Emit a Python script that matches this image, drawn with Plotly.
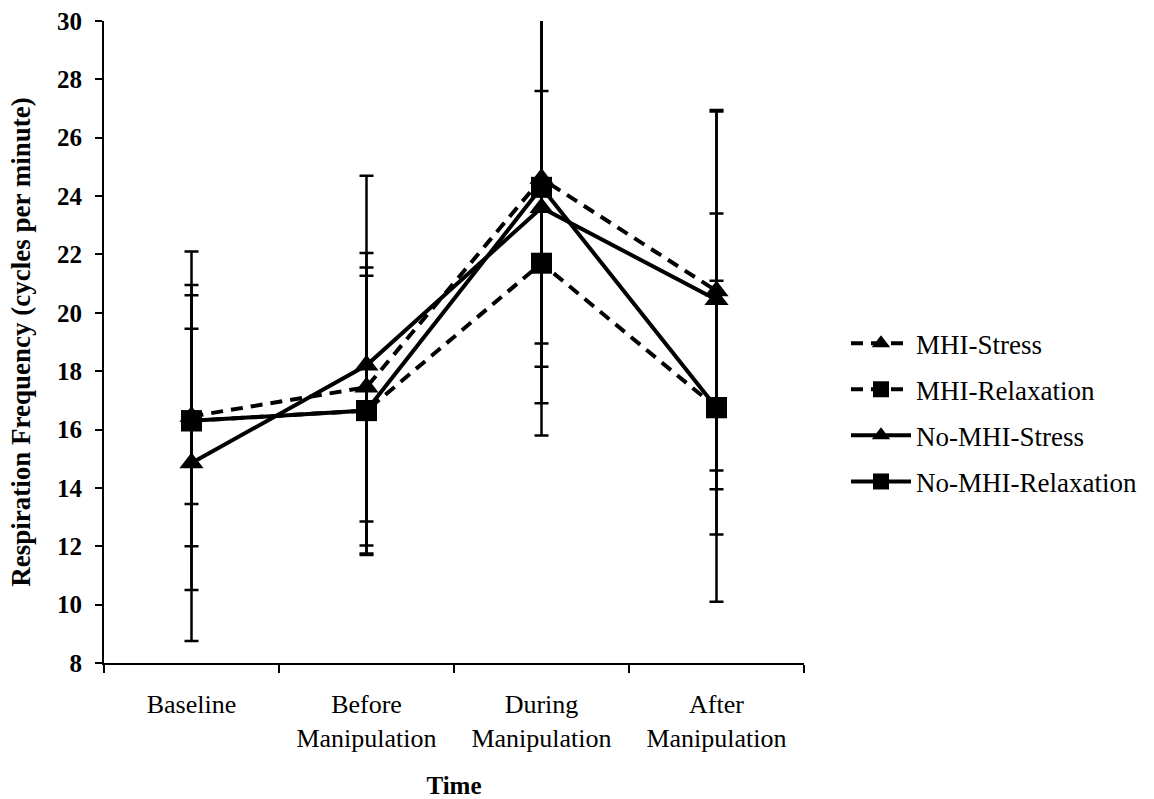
import plotly.graph_objects as go

categories = ["Baseline", "Before<br>Manipulation", "During<br>Manipulation", "After<br>Manipulation"]

series_names = ["MHI-Stress", "MHI-Relaxation", "No-MHI-Stress", "No-MHI-Relaxation"]

mhi_stress = [16.45, 17.45, 24.6, 20.75]
mhi_stress_sd = [3.0, 4.6, 5.65, 6.15]

mhi_relax = [16.3, 16.65, 21.7, 16.75]
mhi_relax_sd = [5.8, 4.9, 5.9, 6.65]

nomhi_stress = [14.85, 18.2, 23.6, 20.45]
nomhi_stress_sd = [6.1, 6.5, 6.7, 6.5]

nomhi_relax = [16.3, 16.65, 24.3, 16.75]
nomhi_relax_sd = [4.3, 4.62, 6.15, 4.35]

y_ticks = [8, 10, 12, 14, 16, 18, 20, 22, 24, 26, 28, 30]

FONT = "Liberation Serif"
styles = [
    ("12px,8px", "triangle-up"),
    ("12px,8px", "square"),
    ("solid", "triangle-up"),
    ("solid", "square"),
]
values = [mhi_stress, mhi_relax, nomhi_stress, nomhi_relax]
sds = [mhi_stress_sd, mhi_relax_sd, nomhi_stress_sd, nomhi_relax_sd]

fig = go.Figure()
for name, vals, sd, (dash, sym) in zip(series_names, values, sds, styles):
    fig.add_trace(go.Scatter(
        x=categories, y=vals, name=name, mode="lines+markers",
        legendgroup=name,
        line=dict(color="black", width=4, dash=dash),
        marker=dict(symbol=sym, size=21, color="black"),
        error_y=dict(type="data", array=sd, visible=True, color="black",
                     thickness=2.5, width=7),
    ))

fig.update_layout(
    width=1154, height=799,
    margin=dict(l=104, r=346, t=21, b=136),
    paper_bgcolor="white", plot_bgcolor="white",
    font=dict(family=FONT, color="black", size=26),
    showlegend=True,
    legend=dict(x=1.06, y=0.39, xanchor="left", yanchor="middle",
                font=dict(family=FONT, size=27, color="black"),
                tracegroupgap=8, itemwidth=60, bgcolor="rgba(0,0,0,0)"),
    xaxis=dict(
        type="category", range=[-0.5, 3.5], automargin=False,
        showline=True, linecolor="black", linewidth=2,
        ticks="outside", ticklen=8, tickwidth=1.5, tickcolor="black",
        tickson="boundaries", showgrid=False, zeroline=False,
        tickfont=dict(family=FONT, size=26, color="black"),
        ticklabelstandoff=17,
        title=dict(text="<b>Time</b>", font=dict(family=FONT, size=25, color="black"),
                   standoff=30),
    ),
    yaxis=dict(
        range=[8, 30], tickvals=y_ticks, automargin=False,
        showline=True, linecolor="black", linewidth=2,
        ticks="outside", ticklen=7, tickwidth=1.5, tickcolor="black",
        showgrid=False, zeroline=False,
        tickfont=dict(family=FONT, size=25, color="black", weight="bold"),
        ticklabelstandoff=8,
    ),
    annotations=[dict(
        text="<b>Respiration Frequency (cycles per minute)</b>",
        xref="paper", yref="paper", x=-0.119, y=0.5,
        xanchor="center", yanchor="middle", textangle=-90, showarrow=False,
        font=dict(family=FONT, size=27, color="black"),
    )],
)

fig.write_html("out.html")
